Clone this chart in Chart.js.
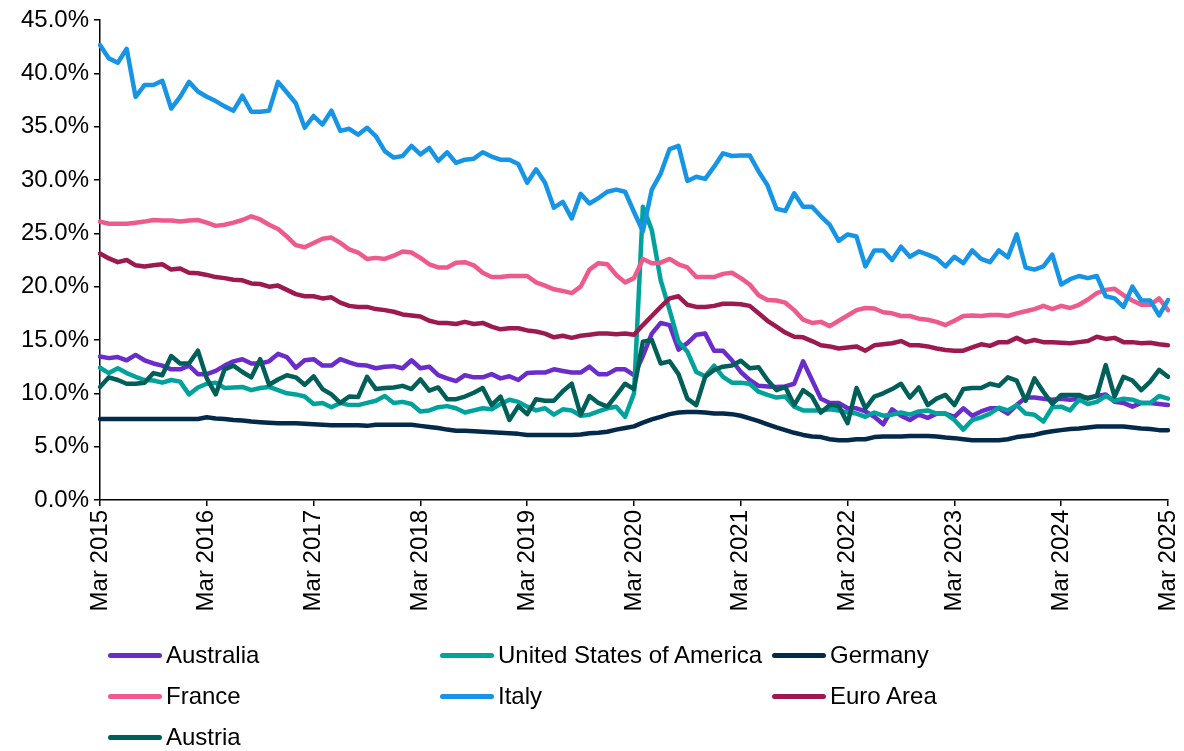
<!DOCTYPE html>
<html>
<head>
<meta charset="utf-8">
<script src="https://cdn.jsdelivr.net/npm/chart.js@4.4.1/dist/chart.umd.min.js"></script>
<style>
  html, body { margin: 0; padding: 0; background: #fff; }
  #wrap { position: relative; width: 1184px; height: 751px; }
  #c { position: absolute; left: 0; top: 0; }
  .lg { position: absolute; font-family: "Liberation Sans", Arial, sans-serif; font-size: 24px; color: #000; white-space: nowrap; line-height: 26px; height: 26px; }
  .lg span.ln { position: absolute; top: 11px; height: 5px; border-radius: 2.5px; }
  .lg span.tx { position: absolute; top: 0; }
</style>
</head>
<body>
<div id="wrap">
  <canvas id="c" width="1184" height="751"></canvas>
  <div id="legend"></div>
</div>
<script>
// ---------- data ----------
const MONTH_NAMES = ["Jan","Feb","Mar","Apr","May","Jun","Jul","Aug","Sep","Oct","Nov","Dec"];
const START_YEAR = 2015, START_MONTH = 2, N_MONTHS = 121;
const months = [];
for (let k = 0; k < N_MONTHS; k++) {
  const m = (START_MONTH + k) % 12, y = START_YEAR + Math.floor((START_MONTH + k) / 12);
  months.push(MONTH_NAMES[m] + " " + y);
}
const yTicks = [0, 5, 10, 15, 20, 25, 30, 35, 40, 45];

const australia = [
13.45,13.3,13.4,13.1,13.6,13.1,12.8,12.6,12.25,12.25,12.6,11.8,11.8,12.1,12.6,13.0,13.2,12.8,12.8,13.0,13.7,13.4,12.4,13.1,13.2,12.6,12.6,13.2,12.9,12.65,12.6,
12.35,12.5,12.55,12.35,13.1,12.35,12.5,11.7,11.4,11.15,11.7,11.5,11.5,11.8,11.4,11.6,11.25,11.9,11.95,11.95,12.25,12.1,11.95,11.95,12.5,11.8,11.8,12.25,12.25,
11.7,13.5,15.6,16.6,16.4,14.1,14.7,15.5,15.6,14.0,14.0,13.1,12.0,11.25,10.7,10.65,10.6,10.65,10.9,13.0,11.25,9.5,9.1,9.1,8.6,8.6,8.3,7.8,7.1,8.5,
7.9,7.5,8.0,7.7,8.1,8.1,7.8,8.6,7.9,8.3,8.6,8.6,8.1,8.9,9.6,9.6,9.5,9.4,9.5,9.4,9.5,9.6,9.75,9.9,9.2,9.1,8.75,9.1,9.1,9.0,8.9];

const usa = [
12.4,11.9,12.35,11.9,11.55,11.25,11.2,11.0,11.25,11.1,9.9,10.55,10.9,11.0,10.5,10.55,10.6,10.3,10.5,10.6,10.3,10.0,9.9,9.7,9.0,9.1,8.7,9.1,8.9,8.9,9.1,
9.3,9.75,9.1,9.2,9.0,8.3,8.4,8.7,8.8,8.6,8.2,8.4,8.6,8.5,9.0,9.4,9.2,8.75,8.4,8.6,8.0,8.5,8.4,7.9,8.0,8.3,8.6,8.75,7.8,
10.0,27.5,25.3,20.6,17.8,14.85,13.9,12.0,11.6,12.6,11.55,11.0,11.0,10.9,10.15,9.85,9.6,9.7,8.75,8.4,8.4,8.4,8.5,8.4,8.2,8.1,7.8,8.2,7.9,8.0,
8.2,8.0,8.3,8.4,8.1,8.1,7.5,6.6,7.5,7.75,8.1,8.65,8.4,8.9,8.1,8.0,7.35,8.7,8.75,8.4,9.4,9.0,9.2,9.75,9.3,9.5,9.4,9.1,9.1,9.75,9.5];

const germany = [
7.6,7.6,7.6,7.6,7.6,7.6,7.6,7.6,7.6,7.6,7.6,7.6,7.75,7.65,7.6,7.5,7.45,7.35,7.3,7.25,7.2,7.2,7.2,7.15,7.1,7.05,7.0,7.0,7.0,7.0,6.95,
7.05,7.05,7.05,7.05,7.05,6.95,6.85,6.75,6.6,6.5,6.5,6.45,6.4,6.35,6.3,6.25,6.2,6.1,6.1,6.1,6.1,6.1,6.1,6.15,6.25,6.3,6.4,6.6,6.75,
6.9,7.25,7.55,7.8,8.05,8.2,8.25,8.25,8.2,8.1,8.1,8.05,7.9,7.65,7.4,7.1,6.8,6.55,6.3,6.1,5.95,5.9,5.7,5.6,5.6,5.7,5.7,5.9,5.95,5.95,
5.95,6.0,6.0,6.0,5.95,5.85,5.8,5.7,5.6,5.6,5.6,5.6,5.7,5.9,6.0,6.1,6.3,6.45,6.55,6.65,6.7,6.8,6.9,6.9,6.9,6.9,6.8,6.7,6.65,6.55,6.55];

const france = [
26.1,25.9,25.9,25.9,26.0,26.1,26.25,26.2,26.2,26.1,26.2,26.25,26.0,25.7,25.8,26.0,26.25,26.6,26.3,25.8,25.4,24.7,23.9,23.7,24.1,24.5,24.6,24.1,23.5,23.2,22.6,
22.7,22.6,22.9,23.3,23.2,22.7,22.1,21.8,21.8,22.25,22.3,22.0,21.3,20.9,20.9,21.0,21.0,21.0,20.4,20.1,19.75,19.6,19.4,20.0,21.6,22.2,22.1,21.1,20.4,
20.8,22.6,22.2,22.25,22.6,22.1,21.8,20.9,20.9,20.9,21.2,21.3,20.8,20.2,19.2,18.75,18.7,18.5,17.8,16.9,16.6,16.7,16.3,16.8,17.3,17.8,18.0,17.95,17.6,17.5,
17.25,17.25,17.0,16.9,16.7,16.4,16.8,17.25,17.3,17.25,17.35,17.35,17.25,17.5,17.7,17.9,18.2,17.9,18.2,18.0,18.3,18.8,19.4,19.7,19.8,19.2,18.7,18.3,18.3,18.9,17.8];

const italy = [
42.65,41.4,41.0,42.3,37.8,38.9,38.9,39.3,36.7,37.8,39.2,38.3,37.8,37.4,36.9,36.5,37.9,36.4,36.4,36.5,39.2,38.2,37.2,34.9,36.0,35.2,36.5,34.6,34.8,34.25,34.9,
34.1,32.7,32.1,32.25,33.2,32.4,33.0,31.8,32.6,31.6,31.9,32.0,32.6,32.2,31.9,31.9,31.5,29.75,31.0,29.75,27.4,27.95,26.4,28.7,27.8,28.3,28.9,29.1,28.9,
27.0,25.2,29.1,30.6,32.9,33.2,29.9,30.3,30.1,31.25,32.5,32.25,32.3,32.3,30.8,29.5,27.3,27.1,28.75,27.5,27.5,26.6,25.8,24.3,24.9,24.7,21.9,23.4,23.4,22.5,
23.75,22.8,23.3,23.0,22.65,21.9,22.8,22.2,23.4,22.6,22.3,23.4,22.75,24.9,21.8,21.6,21.9,23.0,20.2,20.7,21.0,20.8,21.0,19.1,18.9,18.1,20.0,18.7,18.7,17.3,18.75];

const euroArea = [
23.1,22.65,22.3,22.5,22.0,21.9,22.0,22.1,21.6,21.7,21.3,21.25,21.1,20.9,20.8,20.65,20.6,20.3,20.25,20.0,20.1,19.7,19.3,19.1,19.1,18.9,19.0,18.5,18.2,18.1,18.1,
17.9,17.8,17.65,17.4,17.3,17.2,16.8,16.6,16.6,16.5,16.7,16.5,16.6,16.25,16.0,16.1,16.1,15.9,15.8,15.6,15.25,15.4,15.2,15.4,15.5,15.6,15.6,15.55,15.6,
15.5,16.4,17.25,18.1,18.9,19.1,18.3,18.1,18.1,18.2,18.4,18.4,18.35,18.2,17.5,16.8,16.25,15.7,15.3,15.25,14.9,14.5,14.4,14.2,14.3,14.4,14.0,14.5,14.6,14.7,
14.9,14.5,14.5,14.4,14.2,14.06,14.0,14.0,14.3,14.6,14.45,14.8,14.8,15.2,14.8,15.0,14.8,14.8,14.75,14.7,14.8,14.9,15.3,15.1,15.2,14.8,14.8,14.7,14.75,14.6,14.5];

const austria = [
10.6,11.5,11.25,10.9,10.9,11.0,11.9,11.7,13.5,12.8,12.8,14.0,11.4,9.9,12.25,12.6,12.0,11.5,13.2,10.8,11.3,11.7,11.5,10.8,11.6,10.4,9.9,9.1,9.7,9.65,11.55,
10.4,10.5,10.55,10.7,10.4,11.3,10.25,10.55,9.45,9.45,9.7,10.06,10.5,8.9,9.7,7.5,8.8,8.05,9.45,9.3,9.3,10.2,10.9,8.0,9.75,9.1,8.75,9.8,10.9,
10.4,14.85,15.0,12.8,13.0,11.8,9.5,8.9,11.55,12.2,12.5,12.6,13.05,12.35,12.45,11.25,10.3,10.6,8.9,10.3,9.7,8.2,8.9,8.8,7.2,10.5,8.6,9.7,10.0,10.4,
10.9,9.6,10.55,8.9,9.5,9.85,8.9,10.4,10.5,10.5,10.9,10.7,11.5,11.2,9.3,11.4,10.15,9.0,9.85,9.85,9.85,9.5,9.75,12.65,9.7,11.55,11.2,10.3,11.1,12.2,11.55];

const seriesNames = ["Australia", "United States of America", "Germany", "France", "Italy", "Euro Area", "Austria"];
const seriesData = [australia, usa, germany, france, italy, euroArea, austria];
const seriesColors = ["#6a2ccb", "#00a39b", "#03294b", "#ef5a8c", "#1694e5", "#9d1a50", "#005f59"];

// ---------- chart ----------
const FONT = '"Liberation Sans", Arial, sans-serif';
const datasets = seriesNames.map((name, i) => ({
  label: name,
  data: seriesData[i],
  borderColor: seriesColors[i],
  backgroundColor: seriesColors[i],
  borderWidth: 4.5,
  pointRadius: 0,
  tension: 0,
  fill: false,
  borderJoinStyle: 'round',
  borderCapStyle: 'round',
  order: seriesNames.length - i
}));

new Chart(document.getElementById('c'), {
  type: 'line',
  data: { labels: months, datasets },
  options: {
    responsive: false,
    animation: false,
    devicePixelRatio: 1,
    layout: { padding: { top: 20, right: 16, bottom: 0, left: 0 } },
    plugins: { legend: { display: false }, tooltip: { enabled: false } },
    scales: {
      x: {
        type: 'category',
        offset: false,
        border: { display: true, color: '#000', width: 1.5 },
        grid: { display: true, drawOnChartArea: false, drawTicks: true, tickLength: 6, color: '#000', lineWidth: 1.5 },
        ticks: {
          autoSkip: false, maxRotation: 90, minRotation: 90, padding: 4,
          color: '#000', font: { family: FONT, size: 24 },
          callback: function(v, i) { return (i % 12 === 0) ? months[i] : null; }
        },
        afterFit: function(s) { s.height = 751 - 20 - 480; s.paddingLeft = 0; s.paddingRight = 0; }
      },
      y: {
        min: 0, max: 45,
        border: { display: true, color: '#000', width: 1.5 },
        grid: { display: true, drawOnChartArea: false, drawTicks: true, tickLength: 6, color: '#000', lineWidth: 1.5 },
        afterBuildTicks: function(s) { s.ticks = yTicks.map(v => ({ value: v })); },
        ticks: {
          padding: 5, color: '#000', font: { family: FONT, size: 24 },
          callback: function(v) { return Number(v).toFixed(1) + '%'; }
        },
        afterFit: function(s) { s.width = 100; s.paddingTop = 0; s.paddingBottom = 0; }
      }
    }
  }
});

// ---------- legend (HTML) ----------
const legendPos = [
  [108, 642], [440, 642], [772, 642],
  [108, 683], [440, 683], [772, 683],
  [108, 724]
];
const lg = document.getElementById('legend');
seriesNames.forEach((name, si) => {
  const d = document.createElement('div');
  d.className = 'lg';
  d.style.left = legendPos[si][0] + 'px';
  d.style.top = legendPos[si][1] + 'px';
  const ln = document.createElement('span');
  ln.className = 'ln';
  ln.style.left = '0px';
  ln.style.width = '54px';
  ln.style.background = seriesColors[si];
  const tx = document.createElement('span');
  tx.className = 'tx';
  tx.style.left = '58px';
  tx.textContent = name;
  d.appendChild(ln); d.appendChild(tx);
  lg.appendChild(d);
});
</script>
</body>
</html>
